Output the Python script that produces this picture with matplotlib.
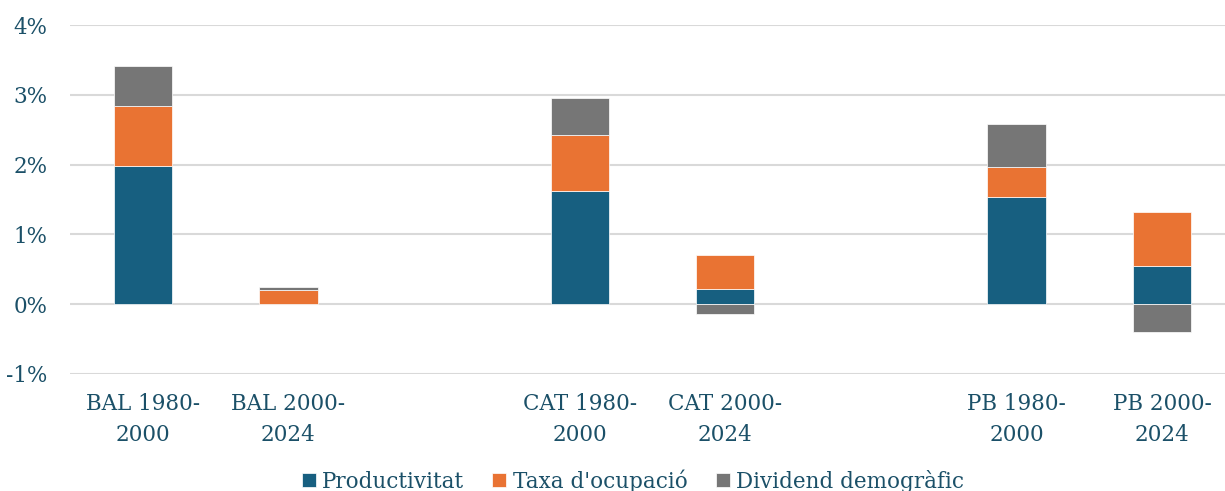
import numpy as np
import matplotlib.pyplot as plt

labels = ['BAL 1980-\n2000', 'BAL 2000-\n2024', '', 'CAT 1980-\n2000', 'CAT 2000-\n2024', '',
          'PB 1980-\n2000', 'PB 2000-\n2024']
productivitat = [1.98, 0.0, np.nan, 1.62, 0.22, np.nan, 1.53, 0.545]
taxa = [0.86, 0.21, np.nan, 0.81, 0.49, np.nan, 0.44, 0.775]
dividend = [0.57, 0.04, np.nan, 0.52, -0.14, np.nan, 0.61, -0.40]
series_names = ['Productivitat', "Taxa d'ocupació", 'Dividend demogràfic']

colors = ['#175f80', '#e97333', '#767676']
txt = '#1b5068'
plt.rcParams['font.family'] = ['DejaVu Serif']

fig = plt.figure(figsize=(12.25, 4.91), dpi=100)
ax = fig.add_axes([70/1225, 117/491, 1165/1225, 349/491])

x = np.arange(len(labels))
pos = np.zeros(len(labels))
neg = np.zeros(len(labels))
for vals, c, name in zip([productivitat, taxa, dividend], colors, series_names):
    v = np.nan_to_num(np.array(vals, dtype=float))
    bottom = np.where(v >= 0, pos, neg)
    keep = v != 0
    ax.bar(x[keep], v[keep], 0.4, bottom=bottom[keep], color=c, edgecolor='white',
           linewidth=0.5, label=name, zorder=3)
    pos = pos + np.where(v >= 0, v, 0)
    neg = neg + np.where(v < 0, v, 0)

ax.set_xlim(-0.5, 7.5)
ax.set_ylim(-1, 4)
ax.set_yticks(np.arange(-1, 5, 1))
ax.set_yticklabels(['%d%%' % t for t in range(-1, 5)])
ax.set_xticks(x)
ax.set_xticklabels(labels, linespacing=1.5)
ax.grid(axis='y', color='#d9d9d9', linewidth=1.5, zorder=0)
for s in ax.spines.values():
    s.set_visible(False)
ax.tick_params(length=0, labelsize=15.5, colors=txt, pad=14)
ax.tick_params(axis='y', pad=16)

leg = fig.legend(loc='center', bbox_to_anchor=(633/1225, 10/491), ncol=3, frameon=False,
                 fontsize=15.5, handlelength=0.65, handleheight=0.65, handletextpad=0.3,
                 columnspacing=1.3)
for t in leg.get_texts():
    t.set_color(txt)

fig.savefig('out.png', dpi=100)
